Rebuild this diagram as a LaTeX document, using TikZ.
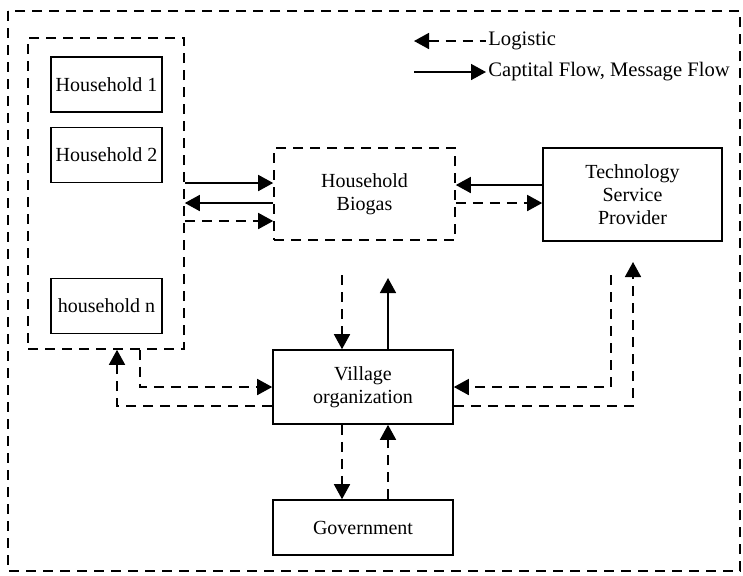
\documentclass[tikz,border=0pt]{standalone}
\usepackage{fontspec}
\setmainfont{Liberation Serif}
\usetikzlibrary{arrows.meta}
\begin{document}
\begin{tikzpicture}[x=0.5pt,y=-0.5pt,
  box/.style={draw, line width=0.8pt, inner sep=0pt, align=center,
    font=\fontsize{10}{11.5}\selectfont},
  dashes/.style={dash pattern=on 5pt off 3.5pt},
  dbox/.style={box, dashes},
  tip/.style={-{Triangle[length=7.5pt,width=8pt]}},
  rtip/.style={{Triangle[length=7.5pt,width=8pt]}-},
  solidarrow/.style={line width=0.8pt, tip},
  dasharrow/.style={line width=0.8pt, tip, dashes},
  lbl/.style={font=\fontsize{10.3}{12}\selectfont, inner sep=1pt, anchor=west}]

\useasboundingbox (0,0) rectangle (743,575);

% outer frame
\draw[line width=0.8pt, dashes] (8,11) rectangle (740,571);

% households group
\node[dbox, minimum width=78pt, minimum height=155.5pt] (grp) at (106,193.5) {};
\node[box, minimum width=55.5pt, minimum height=27.5pt] (hh1) at (106.5,84.5) {Household 1};
\node[box, minimum width=55.5pt, minimum height=27.5pt] (hh2) at (106.5,155) {Household 2};
\node[box, minimum width=55.5pt, minimum height=27.5pt] (hhn) at (106.5,306) {household n};

% main blocks
\node[dbox, minimum width=90.5pt, minimum height=46pt] (bio) at (364.5,194) {Household\\Biogas};
\node[box, minimum width=89.5pt, minimum height=46.5pt] (tech) at (632.5,194.5) {Technology\\Service\\Provider};
\node[box, minimum width=90pt, minimum height=37pt] (vil) at (363,387) {Village\\organization};
\node[box, minimum width=90pt, minimum height=27.5pt] (gov) at (363,527.5) {Government};

% households <-> biogas
\draw[solidarrow] (grp.east |- 0,183) -- (bio.west |- 0,183);
\draw[solidarrow] (bio.west |- 0,203) -- (grp.east |- 0,203);
\draw[dasharrow] (grp.east |- 0,221) -- (bio.west |- 0,221);

% provider <-> biogas
\draw[solidarrow] (tech.west |- 0,185) -- (bio.east |- 0,185);
\draw[dasharrow] (bio.east |- 0,203) -- (tech.west |- 0,203);

% biogas <-> village
\coordinate (bvA) at (342,275);
\coordinate (bvB) at (388,278);
\draw[dasharrow] (bvA) -- (vil.north -| bvA);
\draw[solidarrow] (vil.north -| bvB) -- (bvB);

% village <-> government
\draw[dasharrow] (vil.south -| 342,0) -- (gov.north -| 342,0);
\draw[dasharrow] (gov.north -| 388,0) -- (vil.south -| 388,0);

% village <-> households
\draw[dasharrow] (vil.west |- 0,406) -| (grp.south -| 117,0);
\draw[dasharrow] (grp.south -| 140,0) |- (vil.west);

% village <-> provider
\coordinate (tvA) at (611,275);
\coordinate (tvB) at (633,262);
\draw[dasharrow] (tvA) |- (vil.east);
\draw[dasharrow] (vil.east |- 0,406) -| (tvB);

% legend
\node[lbl] (legL) at (486,41) {Logistic};
\node[lbl] (legC) at (486,72) {Captital Flow, Message Flow};
\draw[line width=0.8pt, rtip, dashes] (legL.west) ++(-72,0) -- (legL.west);
\draw[line width=0.8pt, tip] (legC.west) ++(-72,0) -- (legC.west);
\end{tikzpicture}
\end{document}
